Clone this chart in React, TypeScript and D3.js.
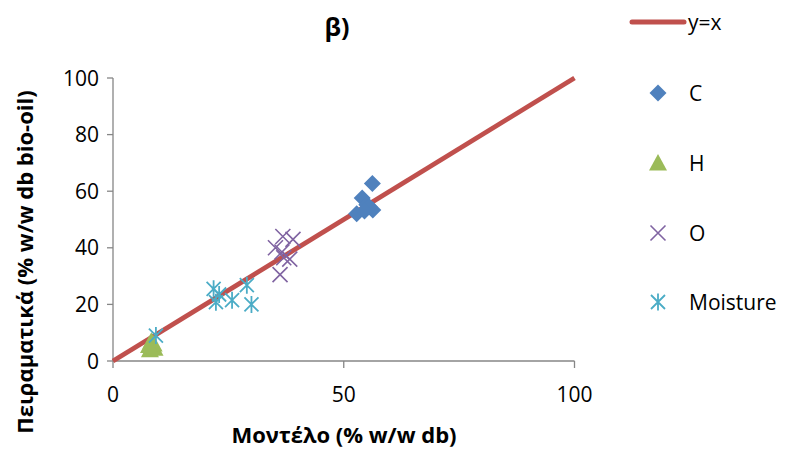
import React from "react";
import * as d3 from "d3";

const xTicks = [0, 50, 100];
const yTicks = [0, 20, 40, 60, 80, 100];
const lineX = [0, 100];
const lineY = [0, 100];

const cX = [56.2, 54.0, 55.0, 52.8, 56.3, 55.5, 54.5];
const cY = [62.7, 57.6, 55.2, 52.0, 53.4, 54.5, 53.0];
const hX = [8.0, 8.5, 9.0, 8.3, 8.8, 7.8];
const hY = [4.0, 5.0, 4.5, 7.0, 6.0, 5.5];
const oX = [36.8, 39.0, 35.2, 36.6, 37.0, 38.3, 36.2];
const oY = [44.0, 43.0, 40.0, 38.5, 36.5, 36.0, 30.5];
const mX = [21.8, 23.0, 22.3, 25.8, 29.0, 30.0, 9.3];
const mY = [25.5, 23.5, 20.8, 21.5, 26.8, 20.0, 9.0];

const seriesNames = ["y=x", "C", "H", "O", "Moisture"];
const colors = ["#C0504D", "#4F81BD", "#9BBB59", "#8064A2", "#4BACC6"];

const FONT = "'Open Sans', 'Noto Sans', sans-serif";

function Marker({ kind, x, y, color }: { kind: string; x: number; y: number; color: string }) {
  const h = 8.5;
  if (kind === "diamond") {
    return <path d={`M${x},${y - h}L${x + h},${y}L${x},${y + h}L${x - h},${y}Z`} fill={color} />;
  }
  if (kind === "triangle") {
    return <path d={`M${x},${y - 9}L${x + 9},${y + 7.5}L${x - 9},${y + 7.5}Z`} fill={color} />;
  }
  if (kind === "x") {
    const s = 7.5;
    return (
      <path d={`M${x - s},${y - s}L${x + s},${y + s}M${x - s},${y + s}L${x + s},${y - s}`} stroke={color} strokeWidth={1.6} fill="none" />
    );
  }
  const s = 7;
  return (
    <path
      d={`M${x - s},${y - s}L${x + s},${y + s}M${x - s},${y + s}L${x + s},${y - s}M${x},${y - s - 1.5}L${x},${y + s + 1.5}`}
      stroke={color}
      strokeWidth={1.8}
      fill="none"
    />
  );
}

export default function App() {
  const W = 790;
  const H = 451;
  const x = d3.scaleLinear().domain([0, 100]).range([113, 574.5]);
  const y = d3.scaleLinear().domain([0, 100]).range([361, 78]);
  const line = d3
    .line<number>()
    .x((d) => x(lineX[d]))
    .y((d) => y(lineY[d]));

  const series = [
    { xs: cX, ys: cY, kind: "diamond", color: colors[1] },
    { xs: hX, ys: hY, kind: "triangle", color: colors[2] },
    { xs: oX, ys: oY, kind: "x", color: colors[3] },
    { xs: mX, ys: mY, kind: "star", color: colors[4] },
  ];

  const axisColor = "#868686";
  const legendX = 658;
  const legendYs = [93, 163, 233, 302];

  return (
    <svg width={W} height={H} style={{ position: "absolute", left: 0, top: 0, background: "#fff" }} fontFamily={FONT}>
      <rect width={W} height={H} fill="#fff" />
      <text x={337} y={36} textAnchor="middle" fontSize={25} fontWeight="bold" fill="#000">
        β)
      </text>

      {/* axes */}
      <line x1={x(0)} x2={x(0)} y1={y(100)} y2={y(0)} stroke={axisColor} strokeWidth={1.3} />
      <line x1={x(0)} x2={x(100)} y1={y(0)} y2={y(0)} stroke={axisColor} strokeWidth={1.3} />
      {yTicks.map((t) => (
        <g key={"y" + t}>
          <line x1={x(0) - 6} x2={x(0)} y1={y(t)} y2={y(t)} stroke={axisColor} strokeWidth={1.3} />
          <text x={99} y={y(t) + 7.5} textAnchor="end" fontSize={21} fill="#000">
            {t}
          </text>
        </g>
      ))}
      {xTicks.map((t) => (
        <g key={"x" + t}>
          <line x1={x(t)} x2={x(t)} y1={y(0)} y2={y(0) + 7} stroke={axisColor} strokeWidth={1.3} />
          <text x={x(t)} y={402} textAnchor="middle" fontSize={21} fill="#000">
            {t}
          </text>
        </g>
      ))}

      <path d={line([0, 1]) || ""} stroke={colors[0]} strokeWidth={4.8} fill="none" />

      {series.map((s, si) =>
        s.xs.map((v, i) => <Marker key={si + "-" + i} kind={s.kind} x={x(v)} y={y(s.ys[i])} color={s.color} />)
      )}

      {/* axis titles */}
      <text x={344} y={443} textAnchor="middle" fontSize={22} fontWeight="bold" fill="#000">
        Μοντέλο (% w/w db)
      </text>
      <text transform={`translate(33,262) rotate(-90)`} textAnchor="middle" fontSize={22} fontWeight="bold" fill="#000">
        Πειραματικά (% w/w db bio-oil)
      </text>

      {/* legend */}
      <line x1={632} x2={684} y1={22} y2={22} stroke={colors[0]} strokeWidth={5} strokeLinecap="round" />
      <text x={688} y={30} fontSize={21} fill="#000">
        {seriesNames[0]}
      </text>
      {series.map((s, i) => (
        <g key={"lg" + i}>
          <Marker kind={s.kind} x={legendX} y={legendYs[i]} color={s.color} />
          <text x={689} y={legendYs[i] + 7.5} fontSize={21} fill="#000">
            {seriesNames[i + 1]}
          </text>
        </g>
      ))}
    </svg>
  );
}
